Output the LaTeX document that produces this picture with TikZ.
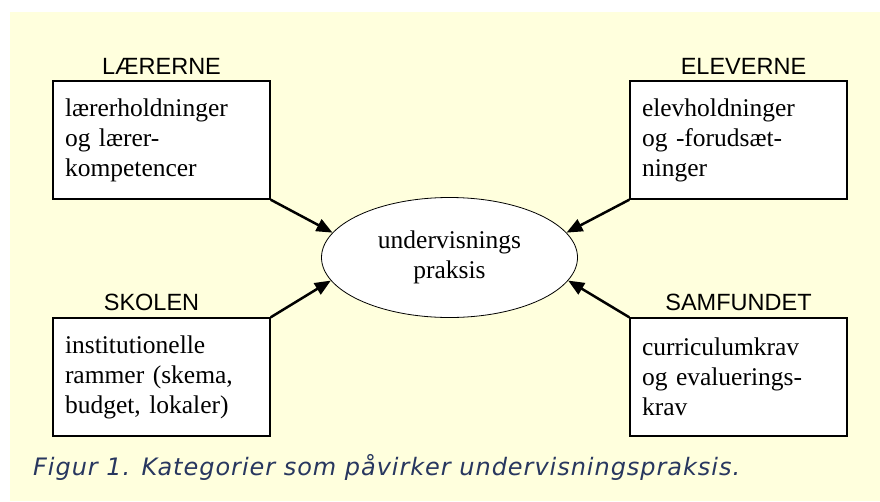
\documentclass[tikz,border=0pt]{standalone}
\usepackage{fontspec}
\setmainfont{Liberation Serif}
\newfontfamily\headfont{Liberation Sans}
\newfontfamily\captionfont[LetterSpace=4]{DejaVu Sans}
\usetikzlibrary{arrows.meta}
\usetikzlibrary{positioning}
\usetikzlibrary{shapes.geometric}

\definecolor{bgyellow}{RGB}{255,255,221}
\definecolor{captionblue}{RGB}{40,55,95}

\begin{document}
\begin{tikzpicture}[x=1pt,y=-1pt,
        box/.style={draw, line width=1.4pt, fill=white, align=left, text width=193pt,
            inner xsep=12pt, inner ysep=0pt, minimum height=118pt,
            font=\fontsize{25.5}{30}\selectfont},
        head/.style={inner sep=0pt, font=\headfont\fontsize{23.5}{26}\selectfont},
        arr/.style={line width=2.5pt, -{Triangle[length=16pt,width=13pt]}}]
            % background
            \useasboundingbox (0,0) rectangle (880,501);
            \fill[bgyellow] (10,12) rectangle (880,501);
            % centre
            \node[draw, line width=0.8pt, fill=white, ellipse, minimum width=256pt, minimum height=120pt,
                inner sep=0pt, align=center, font=\fontsize{25.5}{30}\selectfont]
                (praksis) at (449.5,257.5) {undervisnings\\praksis};
            % boxes
            \node[box] (laerer) at (161.5,140) {lærerholdninger\\og lærer-\\kompetencer};
            \node[box] (elever) at (738.5,140) {elevholdninger\\og -forudsæt-\\ninger};
            \node[box] (skole)  at (161.5,377) {institutionelle\\rammer (skema,\\budget, lokaler)};
            \node[box] (samfund) at (738.5,377) {curriculumkrav\\og evaluerings-\\krav};
            % headings
            \node[head, above=6pt of laerer] (laererhead) {LÆRERNE};
            \node[head, above=6pt of elever, xshift=5pt] (leverhead) {ELEVERNE};
            \node[head, above=6pt of skole, xshift=-10pt] (skolehead) {SKOLEN};
            \node[head, above=6pt of samfund] (samfundhead) {SAMFUNDET};
            % arrows
            \draw[arr] (laerer.south east) -- (praksis.168);
            \draw[arr] (elever.south west) -- (praksis.12);
            \draw[arr] (skole.north east)  -- (praksis.191);
            \draw[arr] (samfund.north west) -- (praksis.349);
            % caption
            \node[anchor=base west, inner sep=0pt, text=captionblue,
                font=\captionfont\itshape\fontsize{24}{27}\selectfont]
                (caption) at (33,475) {Figur 1. Kategorier som påvirker undervisningspraksis.};
        \end{tikzpicture}
\end{document}
